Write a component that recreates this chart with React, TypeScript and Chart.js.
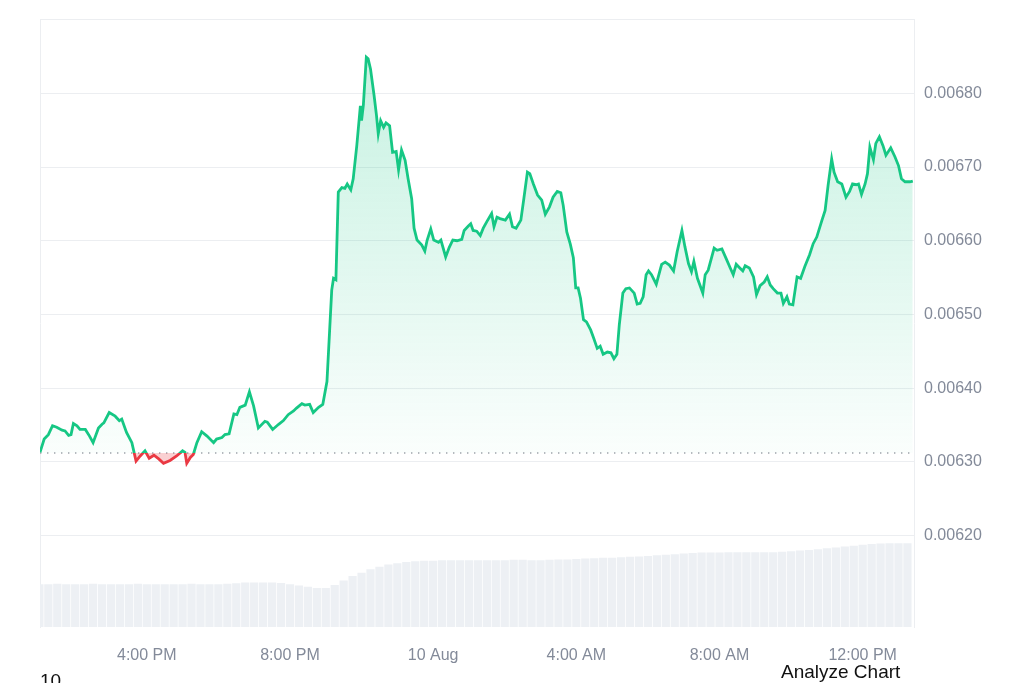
import React, { useEffect, useRef } from "react";
import { Chart, registerables } from "chart.js";

Chart.register(...registerables);

// Time axis: minutes after 12:00 PM, 9 Aug
const priceTimes = [
  61, 68, 75, 82, 89, 98, 103, 109, 113, 117,
  123, 128, 137, 144, 150, 159, 165, 168, 177, 187,
  194, 198, 206, 215, 222, 229, 237, 244, 252, 260,
  268, 279, 290, 300, 304, 307, 313, 318, 324, 332,
  341, 352, 357, 366, 371, 378, 386, 391, 396, 405,
  412, 419, 427, 438, 442, 451, 461, 469, 477, 486,
  491, 500, 505, 513, 519, 528, 535, 542, 550, 553,
  557, 561, 567, 572, 576, 582, 586, 592, 598, 600,
  603, 608, 611, 615, 621, 625, 628, 632, 637, 641,
  647, 652, 658, 662, 667, 673, 678, 684, 688, 693,
  701, 706, 710, 716, 721, 729, 733, 741, 747, 753,
  760, 768, 772, 779, 783, 787, 793, 799, 804, 810,
  818, 822, 827, 832, 841, 848, 853, 859, 867, 872,
  878, 882, 888, 895, 902, 908, 915, 921, 928, 934,
  938, 944, 950, 955, 959, 963, 967, 972, 977, 984,
  989, 995, 1000, 1005, 1012, 1018, 1023, 1028, 1032, 1038,
  1043, 1049, 1057, 1062, 1067, 1072, 1077, 1081, 1086, 1094,
  1097, 1103, 1109, 1116, 1123, 1129, 1137, 1142, 1148, 1153,
  1157, 1163, 1172, 1176, 1181, 1191, 1196, 1204, 1211, 1218,
  1223, 1228, 1234, 1239, 1243, 1250, 1257, 1262, 1268, 1275,
  1280, 1285, 1290, 1297, 1303, 1307, 1313, 1317, 1323, 1330,
  1336, 1343, 1351, 1357, 1363, 1371, 1377, 1382, 1388, 1392,
  1398, 1405, 1412, 1418, 1423, 1429, 1433, 1438, 1444, 1448,
  1452, 1458, 1462, 1468, 1474, 1479, 1487, 1494, 1500, 1505,
  1511, 1519, 1524,
];

const priceValues = [
  0.006313, 0.006331, 0.006337, 0.006349, 0.006347, 0.006343, 0.006342, 0.006336, 0.006337, 0.006352,
  0.006349, 0.006344, 0.006344, 0.006335, 0.006326, 0.006346, 0.006351, 0.006353, 0.006367, 0.006362,
  0.006356, 0.006358, 0.00634, 0.006326, 0.006301, 0.006308, 0.006315, 0.006305, 0.006309, 0.006304,
  0.006298, 0.006302, 0.006308, 0.006315, 0.006313, 0.006298, 0.006306, 0.00631, 0.006326, 0.006341,
  0.006335, 0.006326, 0.006331, 0.006333, 0.006337, 0.006338, 0.006365, 0.006364, 0.006374, 0.006377,
  0.006395, 0.006376, 0.006346, 0.006355, 0.006354, 0.006344, 0.006351, 0.006356, 0.006364, 0.006369,
  0.006373, 0.006379, 0.006377, 0.006378, 0.006367, 0.006374, 0.006378, 0.006409, 0.006533, 0.006549,
  0.006547, 0.006666, 0.006672, 0.006671, 0.006677, 0.006669, 0.006684, 0.006729, 0.006783, 0.006763,
  0.006784, 0.006849, 0.006847, 0.006833, 0.006797, 0.00677, 0.006745, 0.006763, 0.006754, 0.00676,
  0.006756, 0.00672, 0.006721, 0.006696, 0.006723, 0.006709, 0.006684, 0.006657, 0.006617, 0.006601,
  0.006594, 0.006586, 0.006601, 0.006616, 0.006601, 0.006598, 0.006601, 0.006578, 0.006591, 0.006601,
  0.0066, 0.006602, 0.006614, 0.00662, 0.006623, 0.006614, 0.006613, 0.006607, 0.006617, 0.006626,
  0.006637, 0.006619, 0.006632, 0.00663, 0.006628, 0.006636, 0.006619, 0.006617, 0.006628, 0.006657,
  0.006693, 0.006691, 0.006677, 0.006662, 0.006655, 0.006636, 0.006646, 0.006659, 0.006667, 0.006665,
  0.006648, 0.006612, 0.006595, 0.006577, 0.006536, 0.006536, 0.006522, 0.006493, 0.00649, 0.006479,
  0.006468, 0.006454, 0.006457, 0.006446, 0.006449, 0.006448, 0.00644, 0.006446, 0.006486, 0.006529,
  0.006535, 0.006536, 0.006529, 0.006514, 0.006515, 0.006524, 0.006554, 0.006559, 0.006554, 0.006541,
  0.00655, 0.006568, 0.006571, 0.006567, 0.006559, 0.006585, 0.006614, 0.006592, 0.006569, 0.006558,
  0.006572, 0.006549, 0.006529, 0.006554, 0.00656, 0.00659, 0.006587, 0.006589, 0.006576, 0.006563,
  0.006554, 0.006568, 0.006563, 0.006559, 0.006566, 0.006563, 0.006551, 0.006527, 0.006539, 0.006544,
  0.006551, 0.00654, 0.006535, 0.006529, 0.006529, 0.006515, 0.006524, 0.006514, 0.006513, 0.006551,
  0.006549, 0.006565, 0.006581, 0.006596, 0.006605, 0.006626, 0.006641, 0.006675, 0.006711, 0.006693,
  0.00668, 0.006677, 0.006659, 0.006667, 0.006677, 0.006676, 0.006677, 0.006663, 0.006677, 0.006691,
  0.006727, 0.00671, 0.006732, 0.006741, 0.006729, 0.006716, 0.006726, 0.006714, 0.006702, 0.006684,
  0.00668, 0.00668, 0.006681,
];

// Volume bars, one every 15 minutes starting at minute 60 (arbitrary units)
const volumeStartMinute = 60;
const volumeStepMinutes = 15;
const volumeValues = [
  1.0, 1.0, 1.01, 1.0, 1.0, 1.0, 1.01, 1.0, 1.0, 1.0,
  1.0, 1.01, 1.0, 1.0, 1.0, 1.0, 1.0, 1.01, 1.0, 1.0,
  1.0, 1.01, 1.02, 1.04, 1.04, 1.04, 1.04, 1.03, 1.0, 0.97,
  0.94, 0.91, 0.91, 0.98, 1.09, 1.19, 1.27, 1.35, 1.41, 1.46,
  1.49, 1.52, 1.54, 1.55, 1.55, 1.56, 1.56, 1.56, 1.56, 1.56,
  1.56, 1.56, 1.56, 1.57, 1.57, 1.56, 1.56, 1.57, 1.58, 1.58,
  1.59, 1.6, 1.61, 1.62, 1.62, 1.63, 1.64, 1.65, 1.66, 1.68,
  1.69, 1.7, 1.72, 1.73, 1.74, 1.74, 1.74, 1.75, 1.75, 1.75,
  1.75, 1.75, 1.75, 1.76, 1.77, 1.79, 1.8, 1.82, 1.84, 1.86,
  1.88, 1.9, 1.92, 1.94, 1.95, 1.96, 1.96, 1.96,
];

const baselinePrice = 0.006312;

const xTickMinutes = [240, 480, 720, 960, 1200, 1440];
const xTickLabels = ["4:00 PM", "8:00 PM", "10 Aug", "4:00 AM", "8:00 AM", "12:00 PM"];

const yTickValues = [0.0062, 0.0063, 0.0064, 0.0065, 0.0066, 0.0067, 0.0068, 0.0069];
const yTickLabels = ["0.00620", "0.00630", "0.00640", "0.00650", "0.00660", "0.00670", "0.00680", ""];

const GREEN = "#16c784";
const RED = "#ea3943";
const GRID = "#eceef1";
const TICK_COLOR = "#838a99";
const FONT = "'Liberation Sans', Arial, sans-serif";

export default function App() {
  const canvasRef = useRef<HTMLCanvasElement | null>(null);

  useEffect(() => {
    const canvas = canvasRef.current;
    if (!canvas) return;

    const n = Math.min(priceTimes.length, priceValues.length);
    const priceData = [];
    for (let i = 0; i < n; i++) priceData.push({ x: priceTimes[i], y: priceValues[i] });

    const volumeData = volumeValues.map((v, i) => ({
      x: volumeStartMinute + i * volumeStepMinutes,
      y: v,
    }));

    const baseData = [
      { x: 61, y: baselinePrice },
      { x: 1526, y: baselinePrice },
    ];

    const lineColor = (ctx: any) => {
      const chart = ctx.chart;
      const area = chart.chartArea;
      if (!area || !chart.scales.y) return GREEN;
      const yb = chart.scales.y.getPixelForValue(baselinePrice);
      let f = (yb - area.top) / (area.bottom - area.top);
      f = Math.max(0, Math.min(1, f));
      const g = chart.ctx.createLinearGradient(0, area.top, 0, area.bottom);
      g.addColorStop(0, GREEN);
      g.addColorStop(f, GREEN);
      g.addColorStop(Math.min(1, f + 0.0001), RED);
      g.addColorStop(1, RED);
      return g;
    };

    const fillColor = (ctx: any) => {
      const chart = ctx.chart;
      const area = chart.chartArea;
      if (!area || !chart.scales.y) return "rgba(22,199,132,0.15)";
      const yb = chart.scales.y.getPixelForValue(baselinePrice);
      const g = chart.ctx.createLinearGradient(0, area.top, 0, yb);
      g.addColorStop(0, "rgba(22,199,132,0.26)");
      g.addColorStop(0.6, "rgba(22,199,132,0.12)");
      g.addColorStop(1, "rgba(22,199,132,0.02)");
      return g;
    };

    const chart = new Chart(canvas, {
      type: "line",
      data: {
        datasets: [
          {
            type: "line",
            label: "Price",
            data: priceData,
            xAxisID: "x",
            yAxisID: "y",
            borderColor: lineColor,
            backgroundColor: fillColor,
            borderWidth: 2.8,
            pointRadius: 0,
            tension: 0,
            fill: { target: { value: baselinePrice }, below: "rgba(234,57,67,0.24)" },
            order: 0,
          } as any,
          {
            type: "line",
            label: "Baseline",
            data: baseData,
            xAxisID: "x",
            yAxisID: "y",
            borderColor: "#9ea3ab",
            borderWidth: 1.4,
            borderDash: [1.4, 5.6],
            pointRadius: 0,
            fill: false,
            order: 1,
          } as any,
          {
            type: "bar",
            label: "Volume",
            data: volumeData,
            xAxisID: "x",
            yAxisID: "y2",
            backgroundColor: "#edf0f4",
            borderWidth: 0,
            barPercentage: 0.92,
            categoryPercentage: 1,
            grouped: false,
            order: 2,
          } as any,
        ],
      },
      options: {
        responsive: false,
        animation: false,
        layout: { padding: { top: 13, left: 0, right: 0, bottom: 0 } },
        plugins: {
          legend: { display: false },
          tooltip: { enabled: false },
        },
        scales: {
          x: {
            type: "linear",
            offset: false,
            min: 61,
            max: 1526,
            grid: { display: false, drawTicks: false, offset: false },
            border: { display: false },
            afterBuildTicks: (scale: any) => {
              scale.ticks = xTickMinutes.map((v) => ({ value: v }));
            },
            afterFit: (scale: any) => {
              scale.height = 56;
            },
            ticks: {
              padding: 19,
              maxRotation: 0,
              autoSkip: false,
              color: TICK_COLOR,
              font: { family: FONT, size: 16 },
              callback: (value: any) => {
                const i = xTickMinutes.indexOf(Number(value));
                return i >= 0 ? xTickLabels[i] : "";
              },
            },
          },
          y: {
            type: "linear",
            position: "right",
            min: 0.006076,
            max: 0.0069,
            grid: { color: GRID, lineWidth: 1, drawTicks: false },
            border: { display: true, color: GRID },
            afterBuildTicks: (scale: any) => {
              scale.ticks = yTickValues.map((v) => ({ value: v }));
            },
            afterFit: (scale: any) => {
              scale.width = 110;
            },
            ticks: {
              padding: 10,
              color: TICK_COLOR,
              font: { family: FONT, size: 16 },
              callback: (value: any) => {
                const i = yTickValues.findIndex((v) => Math.abs(v - Number(value)) < 1e-9);
                return i >= 0 ? yTickLabels[i] : "";
              },
            },
          },
          y2: {
            type: "linear",
            position: "left",
            min: 0,
            max: 14.2,
            grid: { display: false, drawTicks: false },
            border: { display: true, color: GRID },
            ticks: { display: false },
            afterFit: (scale: any) => {
              scale.width = 40;
            },
          },
        },
      } as any,
    });

    return () => {
      chart.destroy();
    };
  }, []);

  return (
    <div
      style={{
        position: "fixed",
        left: 0,
        top: 0,
        width: 1024,
        height: 683,
        background: "#ffffff",
        overflow: "hidden",
      }}
    >
      <canvas ref={canvasRef} width={1024} height={683} style={{ width: 1024, height: 683, display: "block" }} />
      <div
        style={{
          position: "absolute",
          left: 40,
          top: 671,
          fontFamily: FONT,
          fontSize: 19,
          lineHeight: "19px",
          color: "#111",
        }}
      >
        10
      </div>
      <div
        style={{
          position: "absolute",
          left: 781,
          top: 662,
          fontFamily: FONT,
          fontSize: 19,
          lineHeight: "19px",
          color: "#111",
        }}
      >
        Analyze Chart
      </div>
    </div>
  );
}
